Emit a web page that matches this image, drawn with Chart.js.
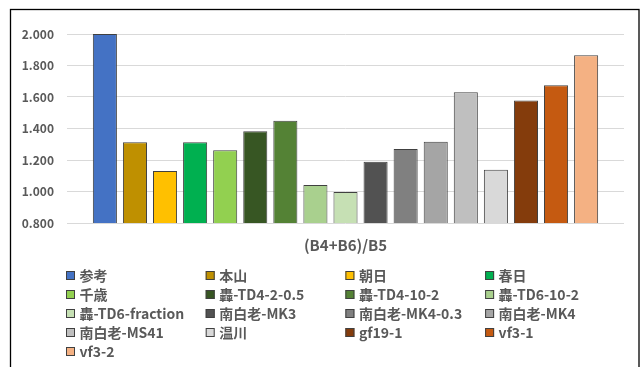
<!DOCTYPE html>
<html>
<head>
<meta charset="utf-8">
<script src="https://cdn.jsdelivr.net/npm/chart.js@4"></script>
<style>
  html, body { margin: 0; padding: 0; background: #fff; }
  #wrap { position: relative; width: 642px; height: 367px; }
</style>
</head>
<body>
<div id="wrap"><canvas id="c" width="642" height="367"></canvas></div>
<script>
// Sample names, one bar each
const categories = ['参考', '本山', '朝日', '春日', '千歳', '轟-TD4-2-0.5', '轟-TD4-10-2', '轟-TD6-10-2',
  '轟-TD6-fraction', '南白老-MK3', '南白老-MK4-0.3', '南白老-MK4', '南白老-MS41', '温川', 'gf19-1', 'vf3-1', 'vf3-2'];

// (B4+B6)/B5 ratio per sample
const ratios = [2.000, 1.312, 1.130, 1.312, 1.262, 1.382, 1.450, 1.041,
  0.997, 1.189, 1.270, 1.316, 1.630, 1.138, 1.577, 1.674, 1.865];

const barColors = ['#4472C4', '#BF9000', '#FFC000', '#00B050', '#92D050', '#375623', '#548235', '#A9D08E',
  '#C6E0B4', '#525252', '#808080', '#A5A5A5', '#BFBFBF', '#D9D9D9', '#843C0C', '#C55A11', '#F4B183'];

// Value axis ticks
const yMin = 0.8, yMax = 2.0, yStep = 0.2;
const axisTitle = '(B4+B6)/B5';

const TEXT = '#595959';
const LEGEND_FONT = 'bold 14px "Noto Sans CJK JP", "DejaVu Sans", sans-serif';

// Outer frame of the chart
const framePlugin = {
  id: 'frame',
  afterDraw(chart) {
    const ctx = chart.ctx;
    ctx.save();
    ctx.strokeStyle = '#000';
    ctx.lineWidth = 1.3;
    ctx.strokeRect(10.5, 9.5, 628.5, 400);
    ctx.restore();
  }
};

// Legend laid out in four fixed columns under the axis title
const gridLegend = {
  id: 'gridLegend',
  afterDraw(chart) {
    const ctx = chart.ctx;
    const cols = 4, x0 = 66, colW = 139.7, y0 = 275.5, rowH = 19, box = 9;
    ctx.save();
    ctx.font = LEGEND_FONT;
    ctx.textBaseline = 'middle';
    ctx.textAlign = 'left';
    chart.data.datasets.forEach((ds, i) => {
      const x = x0 + (i % cols) * colW;
      const y = y0 + Math.floor(i / cols) * rowH;
      ctx.fillStyle = ds.backgroundColor;
      ctx.fillRect(x, y - box / 2, box, box);
      ctx.strokeStyle = '#404040';
      ctx.lineWidth = 1;
      ctx.strokeRect(x + 0.5, y - box / 2 + 0.5, box - 1, box - 1);
      ctx.fillStyle = TEXT;
      ctx.fillText(ds.label, x + 13.5, y + 0.5);
    });
    ctx.restore();
  }
};

new Chart(document.getElementById('c'), {
  type: 'bar',
  data: {
    labels: [''],
    datasets: categories.map((name, i) => ({
      label: name,
      data: [ratios[i]],
      backgroundColor: barColors[i],
      borderColor: '#404040',
      borderWidth: 1,
      borderSkipped: false,
      categoryPercentage: 0.918,
      barPercentage: 0.8
    }))
  },
  options: {
    responsive: false,
    animation: false,
    events: [],
    layout: { padding: { left: 10, right: 18, top: 34, bottom: 0 } },
    plugins: {
      legend: { display: false },
      tooltip: { enabled: false }
    },
    scales: {
      x: {
        grid: { display: false, drawTicks: false },
        border: { display: false },
        ticks: { display: false },
        title: {
          display: true,
          text: axisTitle,
          color: TEXT,
          font: { family: '"Noto Sans CJK JP", "DejaVu Sans", sans-serif', size: 15, weight: 'bold' },
          padding: { top: 0, bottom: 113 }
        },
        afterFit(scale) { scale.height = 144; }
      },
      y: {
        min: yMin,
        max: yMax,
        grid: { color: '#d9d9d9', lineWidth: 1, drawTicks: false },
        border: { display: false },
        ticks: {
          stepSize: yStep,
          padding: 13,
          color: TEXT,
          font: { family: '"Noto Sans CJK JP", "DejaVu Sans", sans-serif', size: 12, weight: 'bold' },
          callback: v => Number(v).toFixed(3)
        },
        afterFit(scale) { scale.width = 57; }
      }
    }
  },
  plugins: [framePlugin, gridLegend]
});
</script>
</body>
</html>
